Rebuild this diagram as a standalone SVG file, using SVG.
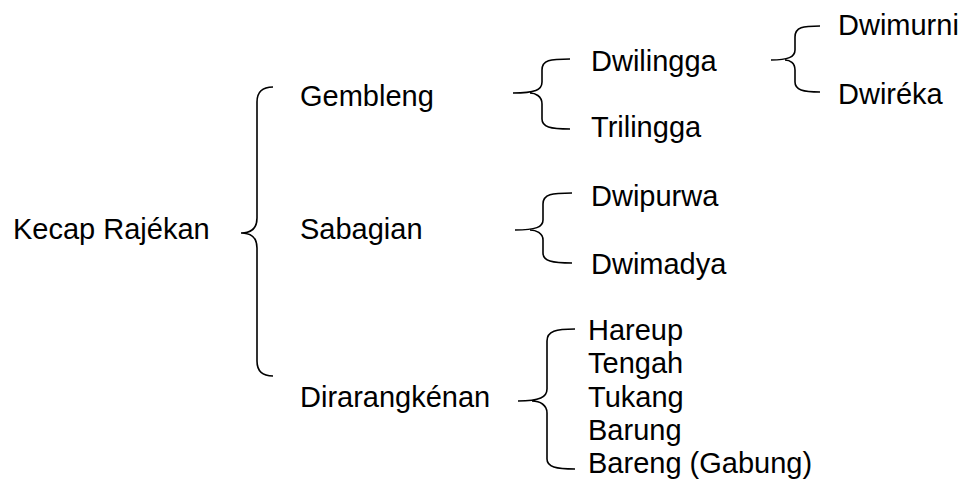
<svg xmlns="http://www.w3.org/2000/svg" width="962" height="479" viewBox="0 0 962 479">
<style>
text{font-family:"Liberation Sans",Arial,sans-serif;font-size:29px;fill:#000}
.br{fill:none;stroke:#000;stroke-width:1.6}
</style>
<rect width="962" height="479" fill="#fff"/>
<g id="connectors">
<path class="br" d="M273,87 C262,87 257,92 257,102 L257,218 C257,228 252,233 241,233 C252,233 257,238 257,248 L257,361 C257,371 262,376 273,376"/>
<path class="br" d="M570,59 C550,59 542,60 542,70 L542,82 C542,90 535,93 513,93 M530,93 C535,93 542,96 542,104 L542,119 C542,127 550,129 570,129"/>
<path class="br" d="M572,193 C552,193 543,194 543,204 L543,220 C543,227 536,230 515,230 M530,230 C536,230 543,233 543,240 L543,253 C543,261 552,263 572,263"/>
<path class="br" d="M575,329 C556,329 547,331 547,341 L547,389 C547,397 540,401 518,401 M532,401 C540,401 547,405 547,413 L547,459 C547,467 556,469 575,469"/>
<path class="br" d="M820,26 C803,26 795,27 795,37 L795,50 C795,57 788,60 771,60 M785,60 C790,60 795,63 795,70 L795,82 C795,90 803,92 820,92"/>
</g>
<g id="n-kecap"><text x="13" y="239">Kecap Rajékan</text></g>
<g id="n-gembleng"><text x="300" y="106">Gembleng</text></g>
<g id="n-sabagian"><text x="300" y="239">Sabagian</text></g>
<g id="n-dirarangkenan"><text x="300" y="407">Dirarangkénan</text></g>
<g id="n-dwilingga"><text x="591" y="71">Dwilingga</text></g>
<g id="n-trilingga"><text x="591" y="137">Trilingga</text></g>
<g id="n-dwipurwa"><text x="591" y="206">Dwipurwa</text></g>
<g id="n-dwimadya"><text x="591" y="274">Dwimadya</text></g>
<g id="n-dwimurni"><text x="838" y="35">Dwimurni</text></g>
<g id="n-dwireka"><text x="838" y="104">Dwiréka</text></g>
<g id="n-list">
<text x="588" y="340">Hareup</text>
<text x="588" y="373">Tengah</text>
<text x="588" y="407">Tukang</text>
<text x="588" y="440">Barung</text>
<text x="588" y="473">Bareng (Gabung)</text>
</g>
</svg>
